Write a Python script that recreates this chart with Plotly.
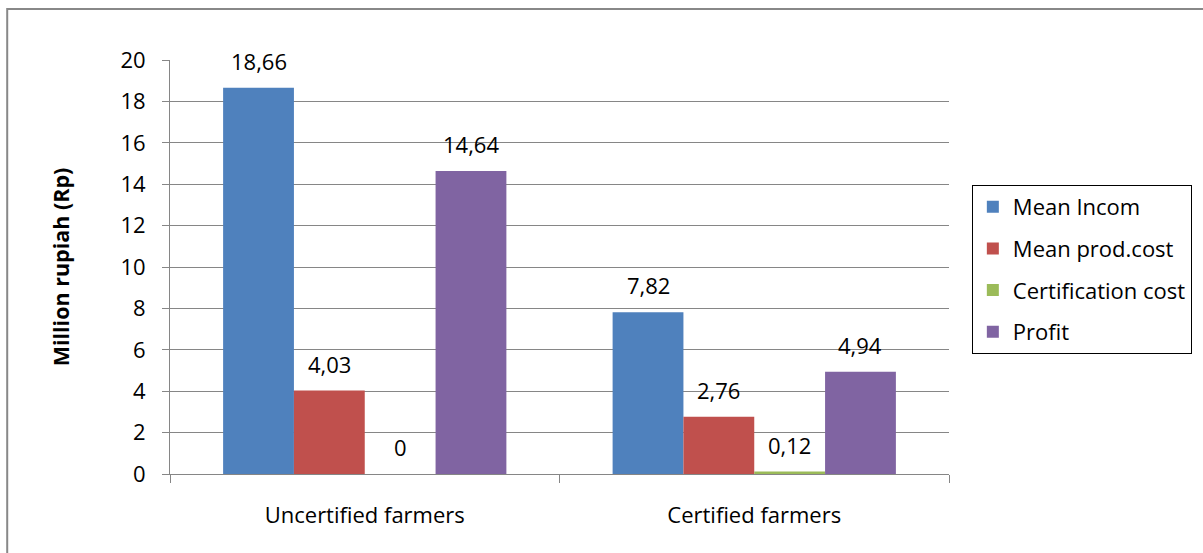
import plotly.graph_objects as go

categories = ["Uncertified farmers", "Certified farmers"]
series_names = ["Mean Incom", "Mean prod.cost", "Certification cost", "Profit"]
mean_income = [18.66, 7.82]
mean_prod_cost = [4.03, 2.76]
certification_cost = [0, 0.12]
profit = [14.64, 4.94]
label_text = [["18,66", "7,82"], ["4,03", "2,76"], ["0", "0,12"], ["14,64", "4,94"]]
colors = ["#4F81BD", "#C0504D", "#9BBB59", "#8064A2"]

values = [mean_income, mean_prod_cost, certification_cost, profit]
xpos = list(range(len(categories)))
FONT = "Open Sans, sans-serif"
FS = 22

fig = go.Figure()
bargap = 1.5 / 5.5
bw = (1 - bargap) / 4
annotations = []
for i, (name, vals, col) in enumerate(zip(series_names, values, colors)):
    fig.add_trace(go.Bar(x=xpos, y=vals, name=name, marker=dict(color=col, line=dict(width=0)),
                         legendgroup=name))
    for j, v in enumerate(vals):
        annotations.append(dict(x=xpos[j] + (-1.5 + i) * bw, y=v, xref="x", yref="y",
                                text=label_text[i][j], showarrow=False, yanchor="bottom",
                                yshift=10, font=dict(family=FONT, size=FS, color="#000")))

fig.update_layout(
    width=1203, height=553,
    margin=dict(l=170, r=253, t=60, b=79),
    paper_bgcolor="white", plot_bgcolor="white",
    barmode="group", bargap=bargap, bargroupgap=0,
    font=dict(family=FONT, size=FS, color="#000"),
    annotations=annotations,
    legend=dict(x=1.028, y=0.698, xanchor="left", yanchor="top",
                bordercolor="#000", borderwidth=1, font=dict(size=FS),
                tracegroupgap=10, itemwidth=30, traceorder="grouped"),
    shapes=[dict(type="rect", xref="paper", yref="paper",
                 x0=(7 - 170) / 780, x1=(1210 - 170) / 780,
                 y0=(474 - 560) / 414, y1=(474 - 9) / 414,
                 line=dict(color="#888", width=2), layer="below")],
)
fig.update_xaxes(range=[-0.5, 1.5], tickmode="array", tickvals=xpos, ticktext=categories,
                 ticks="", showline=True, linecolor="#868686", linewidth=1,
                 showgrid=False, zeroline=False, ticklabelstandoff=22,
                 minor=dict(tickmode="array", tickvals=[-0.5, 0.5, 1.5], ticks="outside",
                            ticklen=8, tickcolor="#868686", showgrid=False))
fig.update_yaxes(range=[0, 20], dtick=2, showgrid=True, gridcolor="#868686", gridwidth=1,
                 ticks="outside", ticklen=7, tickcolor="#868686", showline=True,
                 linecolor="#868686", zeroline=False, ticklabelstandoff=12,
                 title=dict(text="<b>Million rupiah (Rp)</b>", font=dict(size=21.5), standoff=44))

fig.write_html("out.html")
